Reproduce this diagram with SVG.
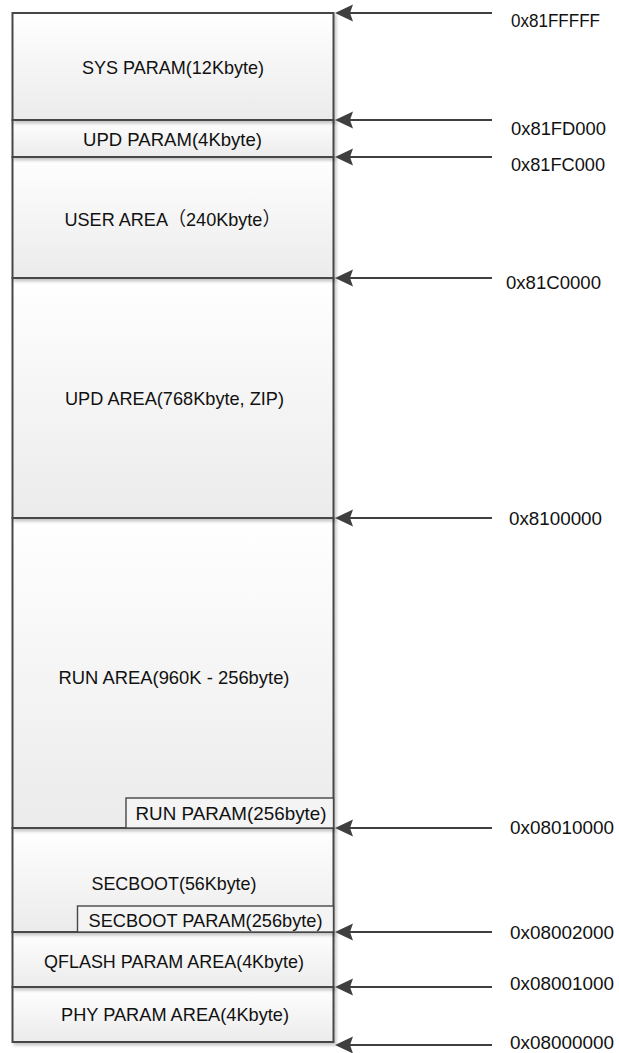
<svg xmlns="http://www.w3.org/2000/svg" width="619" height="1053" viewBox="0 0 619 1053">
<style>
.blk{fill:url(#fillg);stroke:#464646;stroke-width:2;filter:url(#shadow);}
.inner{fill:#f4f4f4;stroke:#464646;stroke-width:1.4;}
.lbl{font-family:"Liberation Sans","Noto Sans CJK SC",sans-serif;font-size:19px;fill:#111;text-anchor:middle;}
.addr{font-family:"Liberation Sans",sans-serif;font-size:19px;fill:#111;}
.conn line{stroke:#3f3f3f;stroke-width:2.2;marker-end:url(#ah);}
</style>
<defs>
<linearGradient id="fillg" x1="0" y1="0" x2="0" y2="1">
<stop offset="0" stop-color="#ffffff"/>
<stop offset="1" stop-color="#ebebeb"/>
</linearGradient>
<filter id="shadow" x="-5%" y="-10%" width="115%" height="140%">
<feDropShadow dx="2" dy="2.5" stdDeviation="1.5" flood-color="#000" flood-opacity="0.22"/>
</filter>
<marker id="ah" markerUnits="userSpaceOnUse" markerWidth="18" markerHeight="18" viewBox="0 0 18 18" refX="13" refY="9" orient="auto">
<path d="M0,0.5 L18,9 L0,17.5 L3,9 Z" fill="#3f3f3f"/>
</marker>
</defs>
<rect width="619" height="1053" fill="#ffffff"/>

<g id="phy-param">
<rect class="blk" x="12.5" y="987" width="321" height="55"/>
<text class="lbl" x="175" y="1021" textLength="228" lengthAdjust="spacingAndGlyphs">PHY PARAM AREA(4Kbyte)</text>
</g>
<g id="qflash-param">
<rect class="blk" x="12.5" y="932" width="321" height="55"/>
<text class="lbl" x="174" y="968" textLength="260" lengthAdjust="spacingAndGlyphs">QFLASH PARAM AREA(4Kbyte)</text>
</g>
<g id="secboot">
<rect class="blk" x="12.5" y="828" width="321" height="104"/>
<text class="lbl" x="174" y="890" textLength="165" lengthAdjust="spacingAndGlyphs">SECBOOT(56Kbyte)</text>
</g>
<g id="secboot-param">
<rect class="inner" x="77.5" y="906" width="256" height="26"/>
<text class="lbl" x="205.5" y="927" textLength="234" lengthAdjust="spacingAndGlyphs">SECBOOT PARAM(256byte)</text>
</g>
<g id="run-area">
<rect class="blk" x="12.5" y="518" width="321" height="310"/>
<text class="lbl" x="174" y="684" textLength="231" lengthAdjust="spacingAndGlyphs">RUN AREA(960K - 256byte)</text>
</g>
<g id="run-param">
<rect class="inner" x="126" y="798" width="207.5" height="30"/>
<text class="lbl" x="231" y="820" textLength="191" lengthAdjust="spacingAndGlyphs">RUN PARAM(256byte)</text>
</g>
<g id="upd-area">
<rect class="blk" x="12.5" y="278" width="321" height="240"/>
<text class="lbl" x="174.5" y="405" textLength="219" lengthAdjust="spacingAndGlyphs">UPD AREA(768Kbyte, ZIP)</text>
</g>
<g id="user-area">
<rect class="blk" x="12.5" y="157" width="321" height="121"/>
<text class="lbl" x="172.5" y="226" textLength="216" lengthAdjust="spacingAndGlyphs">USER AREA（240Kbyte）</text>
</g>
<g id="upd-param">
<rect class="blk" x="12.5" y="120" width="321" height="37"/>
<text class="lbl" x="172.5" y="146" textLength="179" lengthAdjust="spacingAndGlyphs">UPD PARAM(4Kbyte)</text>
</g>
<g id="sys-param">
<rect class="blk" x="12.5" y="13" width="321" height="107"/>
<text class="lbl" x="173" y="74" textLength="182" lengthAdjust="spacingAndGlyphs">SYS PARAM(12Kbyte)</text>
</g>

<g id="connectors" class="conn">
<line x1="492" y1="13" x2="340" y2="13"/>
<line x1="492" y1="120" x2="340" y2="120"/>
<line x1="492" y1="157" x2="340" y2="157"/>
<line x1="492" y1="278" x2="340" y2="278"/>
<line x1="492" y1="518" x2="340" y2="518"/>
<line x1="492" y1="828" x2="340" y2="828"/>
<line x1="492" y1="932" x2="340" y2="932"/>
<line x1="492" y1="987" x2="340" y2="987"/>
<line x1="492" y1="1045" x2="340" y2="1045"/>
</g>

<g id="addresses">
<text class="addr" x="511" y="27" textLength="89" lengthAdjust="spacingAndGlyphs">0x81FFFFF</text>
<text class="addr" x="511" y="135" textLength="95" lengthAdjust="spacingAndGlyphs">0x81FD000</text>
<text class="addr" x="511" y="171" textLength="94" lengthAdjust="spacingAndGlyphs">0x81FC000</text>
<text class="addr" x="506" y="289" textLength="95" lengthAdjust="spacingAndGlyphs">0x81C0000</text>
<text class="addr" x="509" y="525" textLength="93" lengthAdjust="spacingAndGlyphs">0x8100000</text>
<text class="addr" x="510" y="834" textLength="104" lengthAdjust="spacingAndGlyphs">0x08010000</text>
<text class="addr" x="510" y="939" textLength="104" lengthAdjust="spacingAndGlyphs">0x08002000</text>
<text class="addr" x="510" y="990" textLength="104" lengthAdjust="spacingAndGlyphs">0x08001000</text>
<text class="addr" x="510" y="1049" textLength="104" lengthAdjust="spacingAndGlyphs">0x08000000</text>
</g>
</svg>
